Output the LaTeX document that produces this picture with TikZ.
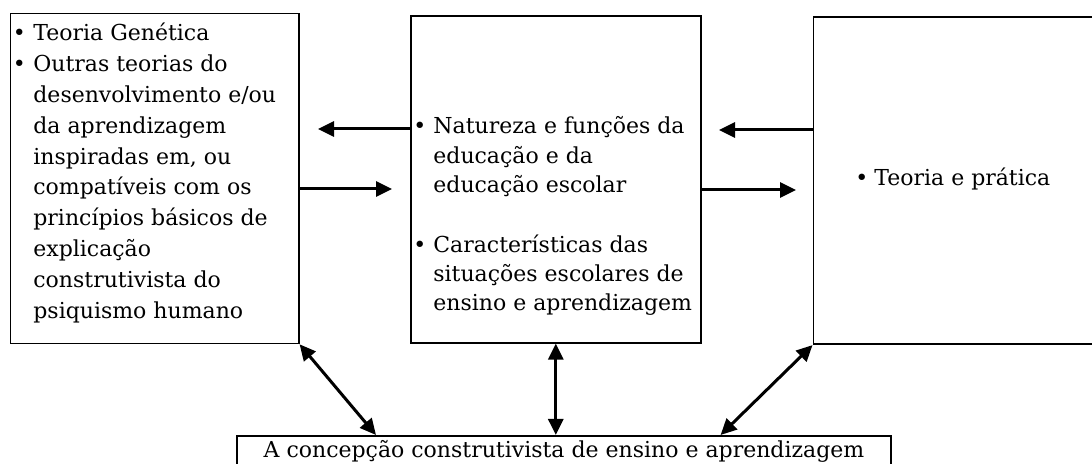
\documentclass[tikz,border=0pt]{standalone}
\usepackage{fontspec}
\setmainfont{DejaVu Serif}
\usetikzlibrary{arrows.meta,positioning}

\tikzset{
  caixa/.style={draw=black, line width=0.8pt, rectangle, inner sep=0pt, anchor=north west},
  texto/.style={anchor=base west, inner sep=0pt},
  seta/.style={-{Triangle[length=8pt,width=7.5pt]}, line width=1.5pt},
  setadupla/.style={{Triangle[length=8pt,width=7.5pt]}-{Triangle[length=8pt,width=7.5pt]}, line width=1.5pt},
}

% bullet item with hanging indent
\newcommand{\marca}[2]{\par\noindent\hangindent=#1\hangafter=1\makebox[#1][l]{\hspace{1pt}•}#2}

\begin{document}
\begin{tikzpicture}[x=0.5pt, y=-0.5pt]
			\useasboundingbox (0,0) rectangle (1092,464);
			% Boxes
			\node[caixa, minimum width=144.25pt, minimum height=165pt] (esq) at (9.5,12.7) {};
			\node[caixa, minimum width=145pt, minimum height=163.5pt] (meio) at (410,15) {};
			\node[caixa, minimum width=143.75pt, minimum height=163.75pt] (dir) at (812.5,16) {};
			\node[caixa, minimum width=327pt, minimum height=22.5pt] (base) at (236,435) {};
			
			% Texts
			\node[texto, font=\fontsize{11}{15.4}\selectfont] (tesq) at (10.5,41) {\parbox[t]{142pt}{%
				\marca{11.25pt}{Teoria Genética}
				\marca{11.25pt}{Outras teorias do\\desenvolvimento e/ou\\da aprendizagem\\inspiradas em, ou\\compatíveis com os\\princípios básicos de\\explicação\\construtivista do\\psiquismo humano}}};
			\node[texto, font=\fontsize{11}{14.6}\selectfont] (tmeio) at (411,134) {\parbox[t]{143pt}{%
				\marca{11pt}{Natureza e funções da\\educação e da\\educação escolar}
				\par\vspace{15.5pt}
				\marca{11pt}{Características das\\situações escolares de\\ensino e aprendizagem}}};
			\node[texto, font=\fontsize{11}{14}\selectfont] (tdir) at (855,186) {•\hspace{3pt}Teoria e prática};
			\node[anchor=base, inner sep=0pt, font=\fontsize{11}{14}\selectfont] (tbase) at (564,458) {A concepção construtivista de ensino e aprendizagem};
			
			% Arrow tips
			\coordinate (pE) at (318,129);
			\coordinate (pM1) at (392,189);
			\coordinate (pM2) at (719,130);
			\coordinate (pD) at (796,190);
			
			% Edges
			\draw[seta] (meio.west |- pE) -- (pE);
			\draw[seta] (esq.east |- pM1) -- (pM1);
			\draw[seta] (dir.west |- pM2) -- (pM2);
			\draw[seta] (meio.east |- pD) -- (pD);
			\draw[setadupla] (esq.south east) -- ([xshift=70pt]base.north west);
			\draw[setadupla] (meio.south) -- (meio.south |- base.north);
			\draw[setadupla] (dir.south west) -- ([xshift=-85.5pt]base.north east);
		\end{tikzpicture}
\end{document}
